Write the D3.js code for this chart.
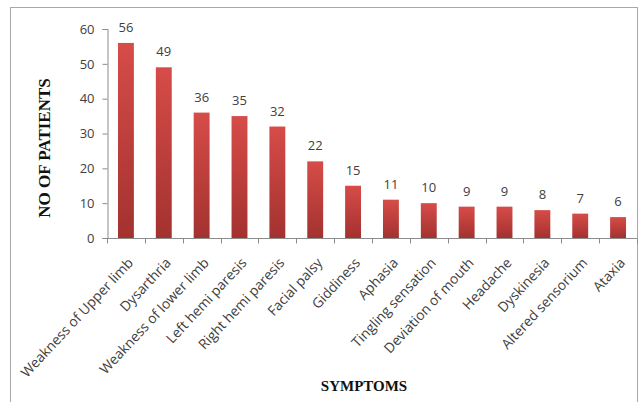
<!DOCTYPE html>
<html>
<head>
<meta charset="utf-8">
<script src="https://cdn.jsdelivr.net/npm/d3@7"></script>
<style>
    body { margin: 0; background: #fff; }
    svg { display: block; }
    .tick-label { font-family: "Open Sans", sans-serif; font-size: 13px; fill: #404040; }
    .cat-label { font-size: 13.8px; }
    .axis-title { font-family: "Liberation Serif", "Times New Roman", serif; font-weight: bold; fill: #111; }
</style>
</head>
<body>
<div id="chart"></div>
<script>
const symptoms = ["Weakness of Upper limb", "Dysarthria", "Weakness of lower limb", "Left  hemi paresis",
    "Right  hemi paresis", "Facial palsy", "Giddiness", "Aphasia", "Tingling sensation",
    "Deviation of mouth", "Headache", "Dyskinesia", "Altered sensorium", "Ataxia"];
const patients = [56, 49, 36, 35, 32, 22, 15, 11, 10, 9, 9, 8, 7, 6];
const yTicks = [0, 10, 20, 30, 40, 50, 60];

const W = 639, H = 402;
const margin = {top: 29, right: 2, bottom: 164, left: 107};
const axisColor = "#8c8c8c";

const svg = d3.select("#chart").append("svg")
    .attr("width", W)
    .attr("height", H);

// chart area border
svg.append("rect")
    .attr("x", 10.5).attr("y", 7.5)
    .attr("width", 627).attr("height", 420)
    .attr("fill", "none")
    .attr("stroke", "#a8a8a8");

const defs = svg.append("defs");
const grad = defs.append("linearGradient")
    .attr("id", "barGrad")
    .attr("x1", 0).attr("y1", 0).attr("x2", 0).attr("y2", 1);
grad.append("stop").attr("offset", "0%").attr("stop-color", "#d64c48");
grad.append("stop").attr("offset", "100%").attr("stop-color", "#a3322f");

const x = d3.scaleBand()
    .domain(symptoms)
    .range([margin.left, W - margin.right])
    .paddingInner(0.58)
    .paddingOuter(0.29);

const y = d3.scaleLinear()
    .domain([0, 60])
    .range([H - margin.bottom, margin.top]);

const bars = svg.append("g");
bars.selectAll("rect")
    .data(patients)
    .enter()
  .append("rect")
    .attr("x", (d, i) => x(symptoms[i]))
    .attr("y", d => y(d))
    .attr("width", x.bandwidth())
    .attr("height", d => y(0) - y(d))
    .attr("fill", "url(#barGrad)");

bars.selectAll("text")
    .data(patients)
    .enter()
  .append("text")
    .attr("class", "tick-label")
    .attr("x", (d, i) => x(symptoms[i]) + x.bandwidth() / 2)
    .attr("y", d => y(d) - 11)
    .attr("text-anchor", "middle")
    .text(d => d);

// y axis
const yAxis = svg.append("g")
    .attr("transform", `translate(${margin.left + 0.5},0)`)
    .call(d3.axisLeft(y).tickValues(yTicks).tickSize(5).tickPadding(8));
yAxis.selectAll("path, line").attr("stroke", axisColor);
yAxis.selectAll("text").attr("class", "tick-label").attr("font-family", null).attr("font-size", null);

// x axis: line, boundary ticks, rotated labels
const step = x.step();
const x0 = margin.left;
const xAxis = svg.append("g").attr("transform", `translate(0,${y(0) + 0.5})`);
xAxis.append("line")
    .attr("x1", x0).attr("x2", W - margin.right)
    .attr("stroke", axisColor);
xAxis.selectAll(".bound")
    .data(d3.range(symptoms.length + 1))
    .enter()
  .append("line")
    .attr("x1", i => Math.round(x0 + i * step) + 0.5)
    .attr("x2", i => Math.round(x0 + i * step) + 0.5)
    .attr("y1", 0).attr("y2", 5)
    .attr("stroke", axisColor);
xAxis.selectAll("text")
    .data(symptoms)
    .enter()
  .append("text")
    .attr("class", "tick-label cat-label")
    .attr("text-anchor", "end")
    .attr("transform", d => `translate(${x(d) + x.bandwidth() / 2 + 8},${25}) rotate(-47)`)
    .text(d => d);

svg.append("text")
    .attr("class", "axis-title")
    .attr("font-size", 17)
    .attr("text-anchor", "middle")
    .attr("transform", "translate(50,148) rotate(-90)")
    .text("NO OF PATIENTS");

svg.append("text")
    .attr("class", "axis-title")
    .attr("font-size", 15)
    .attr("text-anchor", "middle")
    .attr("x", 364).attr("y", 391)
    .text("SYMPTOMS");
</script>
</body>
</html>
